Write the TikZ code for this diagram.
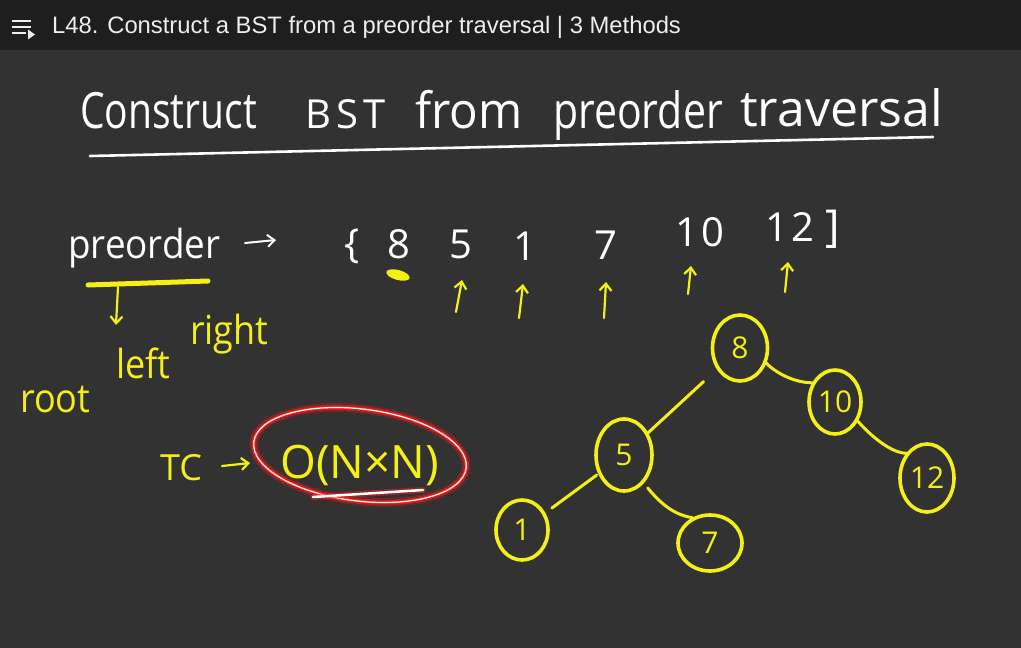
\documentclass[tikz,border=0pt]{standalone}
\usepackage{fontspec}
\setmainfont{Open Sans}
\newfontfamily\titlefont{Liberation Sans}
\usetikzlibrary{arrows.meta,shapes.geometric}
\definecolor{board}{RGB}{50,50,50}
\definecolor{bar}{RGB}{30,30,30}
\definecolor{chalkyellow}{RGB}{245,240,20}
\definecolor{glowred}{RGB}{255,25,25}
\definecolor{titlegray}{RGB}{238,238,238}
\begin{document}
\begin{tikzpicture}[x=1pt,y=-1pt,
  hw/.style={font=\fontsize{50}{52}\selectfont, text=white, inner sep=0pt, anchor=base west},
  yw/.style={hw, text=chalkyellow},
  num/.style={font=\fontsize{40}{42}\selectfont\addfontfeature{LetterSpace=8}, text=white, inner sep=0pt, anchor=base},
  treenode/.style={ellipse, draw=chalkyellow, line width=3.6pt, text=chalkyellow,
     font=\fontsize{30}{32}\selectfont, inner sep=0pt},
  treeedge/.style={draw=chalkyellow, line width=3pt, line cap=round},
  yarrow/.style={draw=chalkyellow, line width=2.2pt, line cap=round, -{Straight Barb[length=7pt,width=12pt]}},
  warrow/.style={draw=white, line width=2pt, line cap=round, -{Straight Barb[length=7pt,width=12pt]}},
]
\fill[board] (0,0) rectangle (1021,648);
\useasboundingbox (0,0) rectangle (1021,648);
% top bar
\fill[bar] (0,0) rectangle (1021,50);
\draw[titlegray, line width=2.6pt] (12,21) -- (31,21) (12,27) -- (31,27) (12,33) -- (26,33);
\fill[titlegray] (28,29.5) -- (35,34.5) -- (28,39.5) -- cycle;
\node[anchor=base west, inner sep=0pt, text=titlegray, font=\titlefont\fontsize{23.8}{26}\selectfont] (title) at (52,33)
  {L48. Construct a BST from a preorder traversal | 3 Methods};

% headline
\node[hw, xscale=0.78] (w1) at (80,128) {Construct};
\node[hw, font=\fontsize{40}{42}\selectfont] (w2) at (305,128) {B\kern5pt S\kern5pt T};
\node[hw, xscale=0.95] (w3) at (415,128) {from};
\node[hw, xscale=0.82] (w4) at (553,128) {preorder};
\node[hw, xscale=1.0] (w5) at (740,126) {traversal};
\coordinate (ulA) at (90,156);
\coordinate (ulB) at (933,137);
\draw[white, line width=2.6pt, line cap=round] (ulA) -- (ulB);

% preorder line
\node[hw, font=\fontsize{40}{42}\selectfont, xscale=0.92] (pre) at (68,258) {preorder};
\coordinate (paA) at (245,243);
\coordinate (paB) at (276,240);
\draw[warrow] (paA) -- (paB);

\node[num] (lb) at (352,257) {\{};
\node[num] (v8) at (399,258) {8};
\node[num] (v5) at (461,258) {5};
\node[num] (v1) at (525,260) {1};
\node[num] (v7) at (606,259) {7};
\node[num] (v10) at (700,246) {10};
\node[num] (v12) at (790,241) {12};
\node[num, font=\fontsize{44}{46}\selectfont] (rb) at (833,241) {]};

% yellow marks under the array
\fill[chalkyellow, rotate around={-15:(398,275)}] (398,275) ellipse [x radius=12, y radius=5];
\coordinate (a5s) at (456,312); \coordinate (a5e) at (462,280);
\coordinate (a1s) at (519,318); \coordinate (a1e) at (523,284);
\coordinate (a7s) at (604,318); \coordinate (a7e) at (606,282);
\coordinate (a10s) at (688,294); \coordinate (a10e) at (691,266);
\coordinate (a12s) at (785,292); \coordinate (a12e) at (788,262);
\draw[yarrow] (a5s) -- (a5e);
\draw[yarrow] (a1s) -- (a1e);
\draw[yarrow] (a7s) -- (a7e);
\draw[yarrow] (a10s) -- (a10e);
\draw[yarrow] (a12s) -- (a12e);

% root left right
\coordinate (yl1) at (88,285);
\coordinate (yl2) at (208,281);
\draw[chalkyellow, line width=5pt, line cap=round] (yl1) -- (yl2);
\coordinate (dA) at (118,287);
\coordinate (dB) at (116,325);
\draw[yarrow] (dA) -- (dB);
\node[yw, font=\fontsize{40}{42}\selectfont, xscale=0.9] (r1) at (20,412) {root};
\node[yw, font=\fontsize{40}{42}\selectfont, xscale=0.9] (r2) at (116,378) {left};
\node[yw, font=\fontsize{40}{42}\selectfont, xscale=0.9] (r3) at (190,344) {right};

% time complexity
\node[yw, font=\fontsize{36}{38}\selectfont] (tc) at (160,480) {TC};
\coordinate (tcA) at (222,466);
\coordinate (tcB) at (250,463);
\draw[yarrow] (tcA) -- (tcB);
\node[yw, font=\fontsize{46}{48}\selectfont] (on) at (280,478) {O(N×N)};
\begin{scope}[rotate around={-7:(360,455)}]
  \draw[glowred, opacity=0.25, line width=9pt] (360,455) ellipse [x radius=107, y radius=46];
  \draw[glowred, opacity=0.5, line width=5.5pt] (360,455) ellipse [x radius=107, y radius=46];
  \draw[glowred, line width=3pt] (360,455) ellipse [x radius=107, y radius=46];
  \draw[white, line width=1.2pt] (360,455) ellipse [x radius=107, y radius=46];
\end{scope}
\coordinate (uA) at (313,497);
\coordinate (uB) at (423,490);
\draw[glowred, opacity=0.5, line width=6pt, line cap=round] (uA) -- (uB);
\draw[white, line width=2.5pt, line cap=round] (uA) -- (uB);

% tree
\node[treenode, minimum width=55pt, minimum height=66pt] (n8) at (740,348) {8};
\node[treenode, minimum width=52pt, minimum height=64pt] (n10) at (835,402) {10};
\node[treenode, minimum width=54pt, minimum height=68pt] (n12) at (927,478) {12};
\node[treenode, minimum width=56pt, minimum height=72pt] (n5) at (624,455) {5};
\node[treenode, minimum width=52pt, minimum height=60pt] (n1) at (522,530) {1};
\node[treenode, minimum width=64pt, minimum height=56pt] (n7) at (710,543) {7};

\draw[treeedge, shorten <=18pt, shorten >=-2pt] (n8) -- (n5);
\draw[treeedge, shorten <=2pt, shorten >=8pt] (n5) -- (n1);
\draw[treeedge, shorten <=6pt] (n5.-55) .. controls +(15,18) and +(-20,-3) .. (n7.125);
\draw[treeedge] (n8.-30) .. controls +(12,12) and +(-15,0) .. (n10.140);
\draw[treeedge] (n10.-40) .. controls +(12,14) and +(-15,0) .. (n12.130);
\end{tikzpicture}
\end{document}
